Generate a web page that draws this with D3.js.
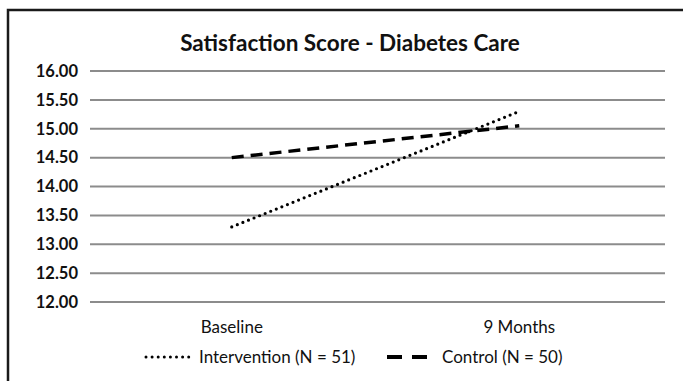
<!DOCTYPE html>
<html>
<head>
<meta charset="utf-8">
<script src="https://cdn.jsdelivr.net/npm/d3@7"></script>
<style>
  html, body { margin: 0; padding: 0; background: #fff; }
  svg { display: block; font-family: Lato, "Open Sans", sans-serif; }
</style>
</head>
<body>
<svg id="chart" width="683" height="381"></svg>
<script>
// Satisfaction score chart - two groups, baseline vs 9 months
const categories = ['Baseline', '9 Months'];
const intervention = [13.30, 15.30];
const control = [14.50, 15.05];
const yTicks = [12, 12.5, 13, 13.5, 14, 14.5, 15, 15.5, 16];
const seriesNames = ['Intervention (N = 51)', 'Control (N = 50)'];

const svg = d3.select('#chart');

// outer frame (runs off the right and bottom edge like the picture)
svg.append('rect')
    .attr('x', 8).attr('y', 10)
    .attr('width', 700).attr('height', 400)
    .attr('fill', 'none')
    .attr('stroke', '#1a1a1a')
    .attr('stroke-width', 2.5);

const margin = { left: 90, right: 18, top: 71, bottom: 79 };
const width = 683 - margin.left - margin.right;
const height = 381 - margin.top - margin.bottom;

const g = svg.append('g')
    .attr('transform', `translate(${margin.left},${margin.top})`);

const x = d3.scaleBand().domain(categories).range([0, width]);
const y = d3.scaleLinear().domain([12, 16]).range([height, 0]);

// title
svg.append('text')
    .attr('x', 350).attr('y', 51)
    .attr('text-anchor', 'middle')
    .style('font-size', '22.5px')
    .style('font-weight', 'bold')
    .attr('fill', '#111')
    .text('Satisfaction Score - Diabetes Care');

// gridlines
g.append('g')
    .selectAll('line')
    .data(yTicks)
    .join('line')
    .attr('x1', 0).attr('x2', width)
    .attr('y1', d => y(d)).attr('y2', d => y(d))
    .attr('stroke', '#8c8c8c')
    .attr('stroke-width', 2);

// y axis labels
const yAxis = g.append('g')
    .call(d3.axisLeft(y).tickValues(yTicks).tickFormat(d3.format('.2f')).tickSize(0).tickPadding(12));
yAxis.select('.domain').remove();
yAxis.selectAll('text')
    .style('font-family', 'Lato, "Open Sans", sans-serif')
    .style('font-size', '16.5px')
    .style('font-weight', 'bold')
    .attr('fill', '#111');

// x axis labels
const xAxis = g.append('g')
    .attr('transform', `translate(0,${height})`)
    .call(d3.axisBottom(x).tickSize(0).tickPadding(0));
xAxis.select('.domain').remove();
xAxis.selectAll('text')
    .attr('dy', null)
    .attr('y', 333 - 71 - height)
    .attr('dx', -2)
    .style('font-family', 'Lato, "Open Sans", sans-serif')
    .style('font-size', '17px')
    .attr('fill', '#111');

const line = d3.line()
    .x((d, i) => x(categories[i]) + x.bandwidth() / 2 - 2)
    .y(d => y(d));

g.append('path')
    .datum(control)
    .attr('fill', 'none')
    .attr('stroke', '#000')
    .attr('stroke-width', 3.5)
    .attr('stroke-dasharray', '12,7')
    .attr('d', line);

g.append('path')
    .datum(intervention)
    .attr('fill', 'none')
    .attr('stroke', '#000')
    .attr('stroke-width', 3.2)
    .attr('stroke-linecap', 'round')
    .attr('stroke-dasharray', '0,6')
    .attr('d', line);

// legend
const legend = svg.append('g').attr('transform', 'translate(0,357)');
legend.append('line')
    .attr('x1', 146).attr('x2', 189).attr('y1', 0).attr('y2', 0)
    .attr('stroke', '#000').attr('stroke-width', 3)
    .attr('stroke-linecap', 'round').attr('stroke-dasharray', '0,6.1');
legend.append('text')
    .attr('x', 199).attr('y', 5.5)
    .style('font-size', '17px').attr('fill', '#111')
    .text(seriesNames[0]);
legend.append('line')
    .attr('x1', 387).attr('x2', 427).attr('y1', 0).attr('y2', 0)
    .attr('stroke', '#000').attr('stroke-width', 4)
    .attr('stroke-dasharray', '15,10');
legend.append('text')
    .attr('x', 442).attr('y', 5.5)
    .style('font-size', '17px').attr('fill', '#111')
    .text(seriesNames[1]);
</script>
</body>
</html>
